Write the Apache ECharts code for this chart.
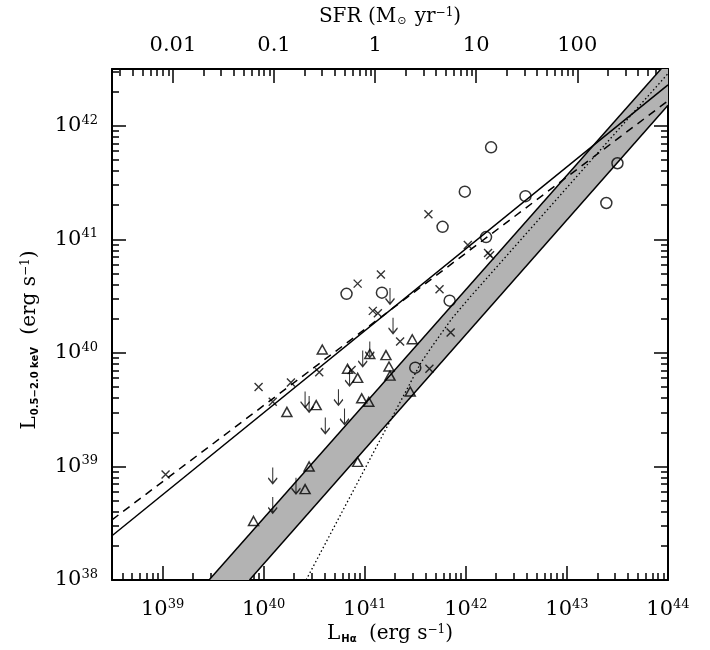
<!DOCTYPE html>
<html lang="en">
<head>
<meta charset="UTF-8">
<title>L(0.5-2 keV) vs L(Halpha)</title>
<script src="https://cdn.jsdelivr.net/npm/echarts@6.0.0/dist/echarts.min.js"></script>
<style>
    * { margin: 0; padding: 0; }
    html, body { background: #fff; }
    #main { width: 710px; height: 650px; }
</style>
</head>
<body>
<div id="main"></div>
<script type="text/javascript">
    // every value is log10 of a luminosity in erg/s (x: L_Halpha, y: L_0.5-2.0keV)
    var circleX = [42.25, 41.99, 42.59, 41.77, 42.20, 43.50, 43.39, 40.82, 41.17, 41.84, 41.50];
    var circleY = [41.81, 41.42, 41.38, 41.11, 41.02, 41.67, 41.32, 40.52, 40.53, 40.46, 39.87];

    var crossX = [39.03, 39.95, 40.09, 40.27, 40.55, 40.87, 40.93, 41.16, 41.08, 41.13, 41.35, 41.63, 41.74, 42.02, 42.22, 42.24, 41.85, 41.64];
    var crossY = [38.93, 39.70, 39.57, 39.74, 39.83, 39.85, 40.61, 40.69, 40.37, 40.35, 40.10, 41.22, 40.56, 40.95, 40.88, 40.86, 40.18, 39.86];

    var triX = [40.58, 41.05, 41.21, 41.47, 41.24, 41.25, 40.83, 40.93, 40.52, 40.23, 40.97, 41.04, 41.45, 40.45, 40.93, 40.41, 39.90];
    var triY = [40.03, 39.99, 39.98, 40.12, 39.88, 39.80, 39.86, 39.78, 39.54, 39.48, 39.60, 39.57, 39.66, 39.00, 39.04, 38.80, 38.52];

    // upper limits (arrow centres)
    var limX = [41.25, 41.28, 41.05, 40.98, 40.85, 40.74, 40.41, 40.45, 40.80, 40.61, 40.09, 40.09, 40.32];
    var limY = [40.50, 40.24, 40.03, 39.95, 39.78, 39.61, 39.59, 39.55, 39.44, 39.36, 38.92, 38.66, 38.83];

    // relations
    var fitX = [38.5, 44], fitY = [38.39, 42.36];
    var dashX = [38.5, 44], dashY = [38.53, 42.22];
    var bandUpX = [39.46, 44], bandUpY = [38.0, 42.57];
    var bandLoX = [39.86, 44], bandLoY = [38.0, 42.18];
    var dotX = [40.42, 41.15, 41.40, 41.56, 41.70, 41.86, 42.05, 44.0];
    var dotY = [38.00, 39.23, 39.65, 39.92, 40.10, 40.30, 40.50, 42.46];

    // axes
    var xMin = 38.5, xMax = 44, yMin = 38, yMax = 42.5;
    var xMajor = [39, 40, 41, 42, 43, 44];
    var yMajor = [38, 39, 40, 41, 42];
    var sfrMajor = [0.01, 0.1, 1, 10, 100];
    var sfrShift = Math.log10(7.9e-42); // SFR = 7.9e-42 L_Halpha

    function minorLog(lo, hi) {
        var out = [];
        for (var d = Math.floor(lo); d < hi; d++) {
            for (var k = 2; k < 10; k++) {
                var v = d + Math.log10(k);
                if (v > lo && v < hi) out.push(v);
            }
        }
        return out;
    }
    function zip(xs, ys) {
        return xs.map(function (x, i) { return [x, ys[i]]; });
    }

    var xMinor = minorLog(xMin, xMax);
    var yMinor = minorLog(yMin, yMax);
    var sfrMajorPos = sfrMajor.map(function (s) { return Math.log10(s) - sfrShift; });
    var sfrMinorPos = minorLog(xMin + sfrShift, xMax + sfrShift).map(function (v) { return v - sfrShift; });

    var FONT = 'DejaVu Serif';
    var powRich = {
        b: { fontFamily: FONT, fontSize: 21, color: '#000', lineHeight: 24 },
        s: { fontFamily: FONT, fontSize: 13, color: '#000', verticalAlign: 'top', lineHeight: 14 }
    };
    function powLabel(v) {
        return '{b|10}{s|' + Math.round(v) + '}';
    }

    function axisBase(extra) {
        var a = {
            type: 'value',
            axisLine: { show: false, onZero: false, lineStyle: { color: '#000', width: 2 } },
            axisTick: { show: true, inside: true, length: 14, lineStyle: { color: '#000', width: 1.5 } },
            axisLabel: { show: false },
            splitLine: { show: false }
        };
        for (var k in extra) a[k] = extra[k];
        return a;
    }

    var myChart = echarts.init(document.getElementById('main'));

    var lineStyle = { color: '#000', width: 1.5 };

    var option = {
        animation: false,
        backgroundColor: '#fff',
        grid: { left: 112, right: 42, top: 69, bottom: 70 },
        xAxis: [
            axisBase({
                position: 'bottom', min: xMin, max: xMax,
                axisLine: { show: true, onZero: false, lineStyle: { color: '#000', width: 2 } },
                axisTick: { show: true, inside: true, length: 14, customValues: xMajor, lineStyle: { color: '#000', width: 1.5 } },
                axisLabel: { show: true, customValues: xMajor, margin: 18, formatter: powLabel, rich: powRich }
            }),
            axisBase({
                position: 'bottom', min: xMin, max: xMax,
                axisTick: { show: true, inside: true, length: 7, customValues: xMinor, lineStyle: { color: '#000', width: 1.5 } }
            }),
            axisBase({
                position: 'top', min: xMin, max: xMax,
                axisLine: { show: true, onZero: false, lineStyle: { color: '#000', width: 2 } },
                axisTick: { show: true, inside: true, length: 14, customValues: sfrMajorPos, lineStyle: { color: '#000', width: 1.5 } },
                axisLabel: {
                    show: true, customValues: sfrMajorPos, margin: 13,
                    fontFamily: FONT, fontSize: 21, color: '#000',
                    formatter: function (v) {
                        return String(Number(Math.pow(10, v + sfrShift).toPrecision(2)));
                    }
                }
            }),
            axisBase({
                position: 'top', min: xMin, max: xMax,
                axisTick: { show: true, inside: true, length: 7, customValues: sfrMinorPos, lineStyle: { color: '#000', width: 1.5 } }
            })
        ],
        yAxis: [
            axisBase({
                position: 'left', min: yMin, max: yMax,
                axisLine: { show: true, onZero: false, lineStyle: { color: '#000', width: 2 } },
                axisTick: { show: true, inside: true, length: 14, customValues: yMajor, lineStyle: { color: '#000', width: 1.5 } },
                axisLabel: { show: true, customValues: yMajor, margin: 14, formatter: powLabel, rich: powRich }
            }),
            axisBase({
                position: 'left', min: yMin, max: yMax,
                axisTick: { show: true, inside: true, length: 7, customValues: yMinor, lineStyle: { color: '#000', width: 1.5 } }
            }),
            axisBase({
                position: 'right', min: yMin, max: yMax,
                axisLine: { show: true, onZero: false, lineStyle: { color: '#000', width: 2 } },
                axisTick: { show: true, inside: true, length: 14, customValues: yMajor, lineStyle: { color: '#000', width: 1.5 } }
            }),
            axisBase({
                position: 'right', min: yMin, max: yMax,
                axisTick: { show: true, inside: true, length: 7, customValues: yMinor, lineStyle: { color: '#000', width: 1.5 } }
            })
        ],
        graphic: [
            {
                type: 'text', x: 390, y: 17,
                style: {
                    text: 'SFR (M{o|⊙} yr{s|−1})',
                    fontFamily: FONT, fontSize: 20, fill: '#000',
                    align: 'center', verticalAlign: 'middle',
                    rich: {
                        o: { fontFamily: 'DejaVu Sans', fontSize: 11, verticalAlign: 'bottom', padding: [0, 2, 0, 1] },
                        s: { fontFamily: FONT, fontSize: 12, verticalAlign: 'top', padding: [0, 0, 6, 0] }
                    }
                }
            },
            {
                type: 'text', x: 390, y: 634,
                style: {
                    text: 'L{h|Hα} (erg s{s|−1})',
                    fontFamily: FONT, fontSize: 20, fill: '#000',
                    align: 'center', verticalAlign: 'middle',
                    rich: {
                        h: { fontFamily: 'DejaVu Sans', fontWeight: 'bold', fontSize: 10, verticalAlign: 'bottom', padding: [0, 6, 0, 1] },
                        s: { fontFamily: FONT, fontSize: 12, verticalAlign: 'top', padding: [0, 0, 6, 0] }
                    }
                }
            },
            {
                type: 'text', x: 30, y: 340, rotation: Math.PI / 2,
                style: {
                    text: 'L{h|0.5−2.0 keV} (erg s{s|−1})',
                    fontFamily: FONT, fontSize: 20, fill: '#000',
                    align: 'center', verticalAlign: 'middle',
                    rich: {
                        h: { fontFamily: 'DejaVu Sans', fontWeight: 'bold', fontSize: 10, verticalAlign: 'bottom', padding: [0, 6, 0, 1] },
                        s: { fontFamily: FONT, fontSize: 12, verticalAlign: 'top', padding: [0, 0, 6, 0] }
                    }
                }
            }
        ],
        series: [
            {
                type: 'custom',
                clip: true,
                z: 1,
                renderItem: function (params, api) {
                    var pts = [], i;
                    for (i = 0; i < bandUpX.length; i++) pts.push(api.coord([bandUpX[i], bandUpY[i]]));
                    for (i = bandLoX.length - 1; i >= 0; i--) pts.push(api.coord([bandLoX[i], bandLoY[i]]));
                    return { type: 'polygon', shape: { points: pts }, style: { fill: '#b3b3b3', stroke: null } };
                },
                data: [[41, 40]]
            },
            { type: 'line', data: zip(bandUpX, bandUpY), symbol: 'none', lineStyle: lineStyle, z: 2 },
            { type: 'line', data: zip(bandLoX, bandLoY), symbol: 'none', lineStyle: lineStyle, z: 2 },
            { type: 'line', data: zip(fitX, fitY), symbol: 'none', lineStyle: lineStyle, z: 2 },
            { type: 'line', data: zip(dashX, dashY), symbol: 'none', lineStyle: { color: '#000', width: 1.5, type: [8, 6] }, z: 2 },
            { type: 'line', data: zip(dotX, dotY), symbol: 'none', lineStyle: { color: '#000', width: 1.3, type: [1.5, 2.5] }, z: 2 },
            {
                type: 'scatter', data: zip(circleX, circleY), symbol: 'circle', symbolSize: 11, z: 3,
                itemStyle: { color: 'rgba(0,0,0,0)', borderColor: '#000', borderWidth: 1.5 }
            },
            {
                type: 'scatter', data: zip(crossX, crossY), symbol: 'path://M0,0L10,10M10,0L0,10', symbolSize: 8, z: 3,
                itemStyle: { color: 'rgba(0,0,0,0)', borderColor: '#000', borderWidth: 1.4 }
            },
            {
                type: 'scatter', data: zip(triX, triY), symbol: 'triangle', symbolSize: [10, 9], z: 3,
                itemStyle: { color: 'rgba(0,0,0,0)', borderColor: '#000', borderWidth: 1.5 }
            },
            {
                type: 'scatter', data: zip(limX, limY), symbol: 'path://M5,0L5,20M1,13L5,20L9,13', symbolSize: [9, 16], z: 3,
                itemStyle: { color: 'rgba(0,0,0,0)', borderColor: '#000', borderWidth: 1.4 }
            }
        ]
    };

    myChart.setOption(option);
</script>
</body>
</html>
